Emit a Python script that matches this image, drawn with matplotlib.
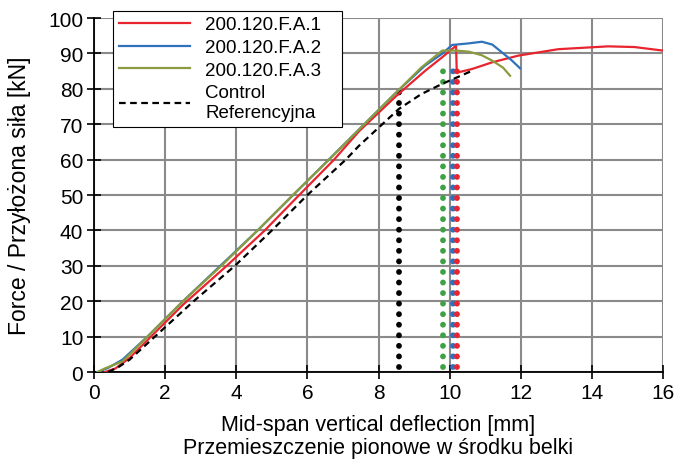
import matplotlib
matplotlib.use('Agg')
import matplotlib.pyplot as plt

plt.rcParams['font.family'] = ['Liberation Sans', 'DejaVu Sans']

x_fa1 = [0.3, 0.6, 1.0, 1.6, 2.5, 3.73, 4.8, 5.77, 6.75, 7.45, 8.5, 9.3, 9.8, 10.1, 10.18,
         10.2, 10.3, 10.63, 11.2, 11.94, 13.06, 14.46, 15.2, 16.0]
y_fa1 = [0, 1, 4, 10, 19, 30, 40, 50, 60, 68, 78, 85, 89, 91.5, 92.2,
         84.8, 84.8, 85.6, 87.5, 89.4, 91.2, 92.0, 91.8, 90.8]

x_fa2 = [0.1, 0.4, 0.8, 1.5, 2.5, 3.55, 4.6, 5.6, 6.6, 7.5, 8.5, 9.3, 9.8, 10.07, 10.5,
         10.91, 11.2, 11.47, 11.75, 11.98]
y_fa2 = [0, 1.2, 3.5, 10, 20, 30, 40, 50, 60, 69, 79, 86.5, 90, 92.4, 92.8,
         93.3, 92.5, 90.3, 88, 85.8]

x_fa3 = [0.1, 0.3, 0.5, 0.8, 1.5, 2.5, 3.58, 4.6, 5.59, 6.61, 7.5, 8.5, 9.2, 9.79, 10.2,
         10.54, 10.9, 11.19, 11.5, 11.7]
y_fa3 = [0, 1, 1.8, 3, 10, 20, 30, 40, 50, 60, 69, 79, 86, 90.8, 90.8,
         90.5, 89.5, 88, 86, 83.7]

x_ref = [0.4, 0.7, 1.0, 1.71, 2.8, 3.96, 5.0, 6.0, 7.08, 7.45, 8.57, 9.2, 9.79, 10.2, 10.63]
y_ref = [0, 1.5, 3.5, 10, 20, 30, 40, 50, 60, 63.9, 74.3, 78.5, 81.4, 83.2, 85.1]

# pionowe linie kropkowane (ugiecie przy zniszczeniu)
v_x = [8.58, 9.81, 10.09, 10.2]
v_top = [79, 88, 88, 88]
v_colors = ['black', '#3fa044', '#2f6fbf', '#e8242e']

fig = plt.figure(figsize=(6.74, 4.64), dpi=100)
ax = fig.add_axes([0.1395, 0.196, 0.8442, 0.763])

ax.grid(True, color='#8a8a8a', linewidth=1.5)
ax.set_axisbelow(True)

for xv, yt, c in zip(v_x, v_top, v_colors):
    ax.plot([xv, xv], [1.4, yt], color=c, linewidth=4.2, zorder=3,
            linestyle=(0, (0.01, 1.8)), dash_capstyle='round')

ax.plot(x_fa1, y_fa1, color='#e8242e', linewidth=1.6, label='200.120.F.A.1', zorder=4)
ax.plot(x_fa2, y_fa2, color='#2f72bb', linewidth=1.6, label='200.120.F.A.2', zorder=4)
ax.plot(x_fa3, y_fa3, color='#8b9c3e', linewidth=1.6, label='200.120.F.A.3', zorder=4)
ax.plot(x_ref, y_ref, color='black', linewidth=1.6, linestyle=(0, (3, 2)),
        label='Control\nReferencyjna', zorder=4)

ax.set_xlim(0, 16)
ax.set_ylim(0, 100)
ax.set_xticks(range(0, 17, 2))
ax.set_yticks(range(0, 101, 10))
ax.tick_params(direction='inout', length=9.5, width=1.2, labelsize=15, pad=3)

for s in ['top', 'right']:
    ax.spines[s].set_visible(False)
for s in ['left', 'bottom']:
    ax.spines[s].set_linewidth(1.3)

ax.set_xlabel('Mid-span vertical deflection [mm]\nPrzemieszczenie pionowe w środku belki',
              fontsize=15.5, linespacing=1.1, labelpad=9)
ax.set_ylabel('Force / Przyłożona siła [kN]', fontsize=16.5, labelpad=12)

leg = ax.legend(loc='upper left', bbox_to_anchor=(0.168, 0.5, 0.34, 0.475),
                bbox_transform=fig.transFigure, mode='expand', fontsize=13.5,
                handlelength=3.8, fancybox=False, framealpha=1, edgecolor='black',
                borderpad=0.3, labelspacing=0.3, handletextpad=0.8, borderaxespad=0)
leg.get_frame().set_linewidth(0.8)
leg.set_zorder(10)

plt.savefig('out.png', dpi=100)
